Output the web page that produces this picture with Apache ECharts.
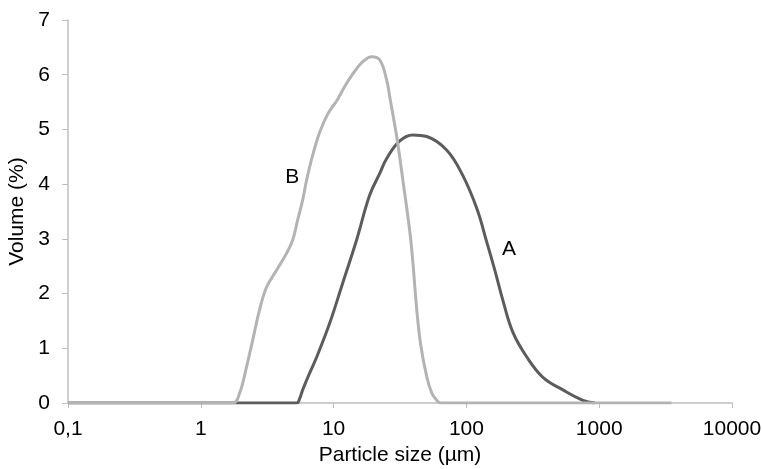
<!DOCTYPE html>
<html>
<head>
<meta charset="utf-8">
<script src="https://cdn.jsdelivr.net/npm/echarts@6/dist/echarts.min.js"></script>
<style>
  html, body { margin: 0; padding: 0; background: #fff; }
  #chart { width: 762px; height: 469px; }
</style>
</head>
<body>
<div id="chart"></div>
<script>
// particle size (µm) / volume (%)
var sizeA = [0.1, 5.27, 5.55, 5.85, 6.61, 7.46, 9.35, 11.7, 14.9, 18.7, 22.3, 25.1, 31.5, 39.5, 50.3, 71.2, 93.9, 120, 142, 164, 188, 224, 285, 377, 533, 754, 928]
var volA  = [0,   0,    0.08, 0.24, 0.55, 0.84, 1.46, 2.19, 2.98, 3.80, 4.20, 4.47, 4.79, 4.90, 4.87, 4.62, 4.16, 3.55, 2.95, 2.42, 1.88, 1.29, 0.84, 0.47, 0.24, 0.05, 0]

var sizeB = [0.1, 1.74, 1.96, 2.21, 2.46, 2.77, 3.13, 3.73, 4.43, 4.92, 5.37, 5.85, 6.27, 6.96, 7.86, 9.03, 10.6, 12.1, 13.9, 16.3, 19.4, 22.3, 25.1, 26.5, 29.9, 33.2, 37.5, 39.5, 42.3, 45.3, 50.3, 54.9, 59.8, 64.1, 3500]
var volB  = [0,   0,    0.18, 0.66, 1.15, 1.70, 2.12, 2.43, 2.74, 2.98, 3.35, 3.71, 4.08, 4.53, 4.95, 5.28, 5.53, 5.78, 6.01, 6.22, 6.33, 6.27, 5.90, 5.59, 4.86, 4.08, 3.13, 2.58, 1.70, 1.06, 0.48, 0.18, 0.05, 0,    0]

var xTicks = [0.1, 1, 10, 100, 1000, 10000]
var yTicks = [0, 1, 2, 3, 4, 5, 6, 7]

// where the curve names sit
var labelA = [209, 2.82]
var labelB = [4.88, 4.12]

function pairs(xs, ys) {
    return xs.map(function (x, i) { return [x, ys[i]] })
}

var chart = echarts.init(document.getElementById('chart'))

var font = 'Liberation Sans, Arial, sans-serif'
var axisGray = '#bfbfbf'
var fs = 21

var option = {
    animation: false,
    backgroundColor: '#fff',
    textStyle: { fontFamily: font },
    grid: {
        left: 68,
        right: 30,
        top: 20,
        bottom: 66,
        containLabel: false,
        outerBoundsMode: 'none'
    },
    xAxis: {
        type: 'log',
        logBase: 10,
        min: xTicks[0],
        max: xTicks[xTicks.length - 1],
        name: 'Particle size (µm)',
        nameLocation: 'middle',
        nameGap: 42,
        nameTextStyle: { fontSize: fs, color: '#000', fontFamily: font },
        axisLine: { lineStyle: { color: axisGray, width: 1.5 } },
        axisTick: { show: true, length: 5, lineStyle: { color: axisGray } },
        minorTick: { show: false },
        splitLine: { show: false },
        axisLabel: {
            fontSize: fs,
            color: '#000',
            margin: 16,
            fontFamily: font,
            formatter: function (v) {
                return String(v).replace('.', ',')
            }
        }
    },
    yAxis: {
        type: 'value',
        min: yTicks[0],
        max: yTicks[yTicks.length - 1],
        interval: 1,
        name: 'Volume (%)',
        nameLocation: 'middle',
        nameGap: 34,
        nameTextStyle: { fontSize: fs, color: '#000', fontFamily: font },
        axisLine: { show: true, lineStyle: { color: axisGray, width: 1.5 } },
        axisTick: { show: true, length: 6, lineStyle: { color: axisGray } },
        splitLine: { show: false },
        axisLabel: { fontSize: fs, color: '#000', margin: 18, fontFamily: font }
    },
    series: [{
        name: 'A',
        type: 'line',
        data: pairs(sizeA, volA),
        smooth: 0.4,
        showSymbol: false,
        lineStyle: { color: '#5c5c5c', width: 3 },
        markPoint: {
            symbol: 'circle',
            symbolSize: 0,
            label: { show: true, formatter: 'A', fontSize: fs, color: '#000', fontFamily: font },
            data: [{ coord: labelA }]
        }
    }, {
        name: 'B',
        type: 'line',
        data: pairs(sizeB, volB),
        smooth: 0.4,
        showSymbol: false,
        lineStyle: { color: '#b3b3b3', width: 3 },
        markPoint: {
            symbol: 'circle',
            symbolSize: 0,
            label: { show: true, formatter: 'B', fontSize: fs, color: '#000', fontFamily: font },
            data: [{ coord: labelB }]
        }
    }]
}

chart.setOption(option)
</script>
</body>
</html>
